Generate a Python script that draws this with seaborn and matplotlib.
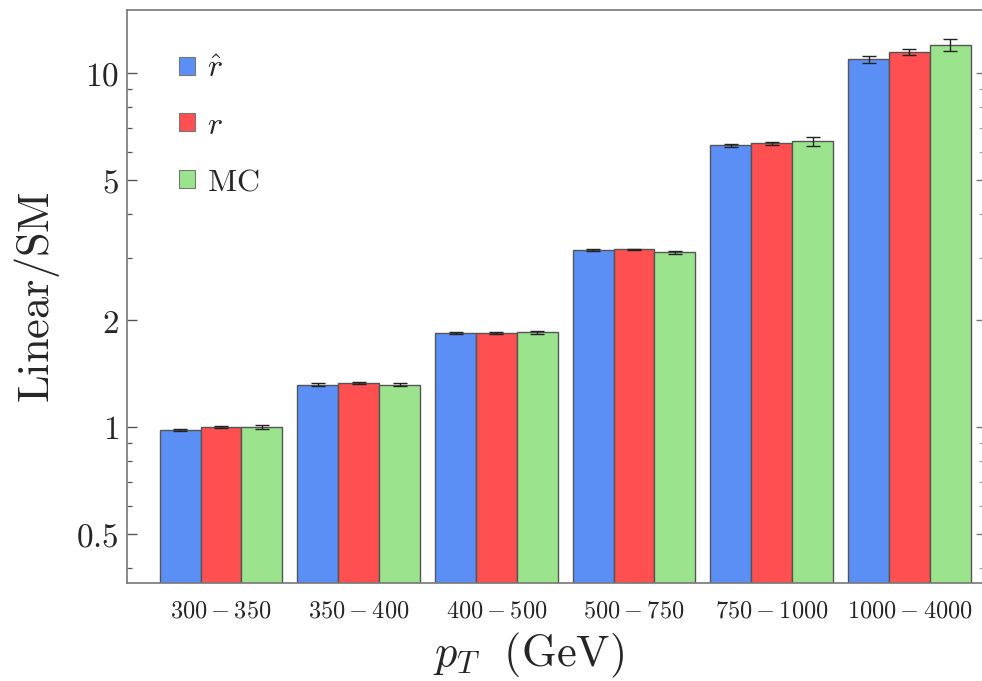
import numpy as np
import pandas as pd
import matplotlib
matplotlib.use("Agg")
import matplotlib.pyplot as plt
from matplotlib.ticker import FixedLocator, LogLocator, NullFormatter
from matplotlib.patches import Patch
import seaborn as sns

categories = ["300-350", "350-400", "400-500", "500-750", "750-1000", "1000-4000"]
tick_labels = [r"$300-350$", r"$350-400$", r"$400-500$", r"$500-750$",
               r"$750-1000$", r"$1000-4000$"]
series = ["rhat", "r", "MC"]
legend_labels = [r"$\hat{r}$", r"$r$", r"$\mathrm{MC}$"]
rhat_vals = [0.981, 1.317, 1.847, 3.162, 6.25, 10.93]
r_vals = [1.0, 1.328, 1.847, 3.177, 6.33, 11.46]
mc_vals = [1.0, 1.317, 1.85, 3.12, 6.41, 12.0]
rhat_err = [0.005, 0.01, 0.012, 0.015, 0.07, 0.22]
r_err = [0.005, 0.008, 0.01, 0.015, 0.06, 0.2]
mc_err = [0.01, 0.014, 0.02, 0.03, 0.17, 0.47]
colors = ["#5b8ff6", "#fe5050", "#9be48d"]

df = pd.DataFrame({
    "bin": categories * 3,
    "series": [s for s in series for _ in categories],
    "value": rhat_vals + r_vals + mc_vals,
})
errs = {"rhat": rhat_err, "r": r_err, "MC": mc_err}

sns.set_style("white")
plt.rcParams["mathtext.fontset"] = "cm"
plt.rcParams["font.family"] = ["DejaVu Serif"]

fig = plt.figure(figsize=(9.82, 6.81), dpi=100)
ax = fig.add_axes([0.1293, 0.1439, 0.8707, 0.8414])

sns.barplot(data=df, x="bin", y="value", hue="series", order=categories,
            hue_order=series, palette=colors, width=0.89, errorbar=None,
            edgecolor="#555555", linewidth=1.0, saturation=1.0, ax=ax,
            legend=False)

ax.set_yscale("log")
ax.set_ylim(0.3624, 15.07)
ax.set_xlim(-0.683, 5.527)

# error bars at the bar centres given by seaborn
for container, s in zip(ax.containers, series):
    xs = [p.get_x() + p.get_width() / 2 for p in container.patches]
    ys = [p.get_height() for p in container.patches]
    ax.errorbar(xs, ys, yerr=errs[s], fmt="none", ecolor="#222222",
                elinewidth=1.0, capsize=5, capthick=1.0, zorder=5)

major = [0.5, 1, 2, 5, 10]
ax.yaxis.set_major_locator(FixedLocator(major))
ax.set_yticklabels([r"$0.5$", r"$1$", r"$2$", r"$5$", r"$10$"])
ax.yaxis.set_minor_locator(LogLocator(base=10, subs=[2, 3, 4, 6, 7, 8, 9]))
ax.yaxis.set_minor_formatter(NullFormatter())
ax.tick_params(axis="y", which="major", direction="in", length=7.5, width=1.0,
               color="#555555", left=True, right=False, labelsize=24, pad=6)
ax.tick_params(axis="y", which="minor", direction="in", length=3.5, width=0.9,
               color="#555555", left=True, right=False)
ax.set_xticks(range(len(categories)))
ax.set_xticklabels(tick_labels)
ax.tick_params(axis="x", which="both", length=0, labelsize=17.5, pad=12)

# right-hand ticks (shorter, as in the reference)
sec = ax.secondary_yaxis("right")
sec.yaxis.set_major_locator(FixedLocator(major))
sec.yaxis.set_minor_locator(LogLocator(base=10, subs=[2, 3, 4, 6, 7, 8, 9]))
sec.yaxis.set_major_formatter(NullFormatter())
sec.yaxis.set_minor_formatter(NullFormatter())
sec.tick_params(which="major", direction="in", length=4, width=1.0, color="#777777")
sec.tick_params(which="minor", direction="in", length=2, width=0.8, color="#999999")
sec.spines["right"].set_visible(False)

for side in ["left", "top", "bottom"]:
    ax.spines[side].set_visible(True)
    ax.spines[side].set_color("#777777")
    ax.spines[side].set_linewidth(1.2)
ax.spines["right"].set_visible(False)

ax.set_ylabel(r"$\mathrm{Linear/SM}$", fontsize=32, labelpad=10)
ax.set_xlabel(r"$p_T\ \ (\mathrm{GeV})$", fontsize=32, labelpad=6, x=0.47)

handles = [Patch(facecolor=c, edgecolor="#777777", linewidth=0.8) for c in colors]
leg = ax.legend(handles, legend_labels, loc="upper left",
                bbox_to_anchor=(0.027, 0.975), frameon=False, fontsize=23,
                handlelength=0.5, handleheight=0.5, handletextpad=0.38,
                labelspacing=0.8)

fig.savefig("out.png", dpi=100)
